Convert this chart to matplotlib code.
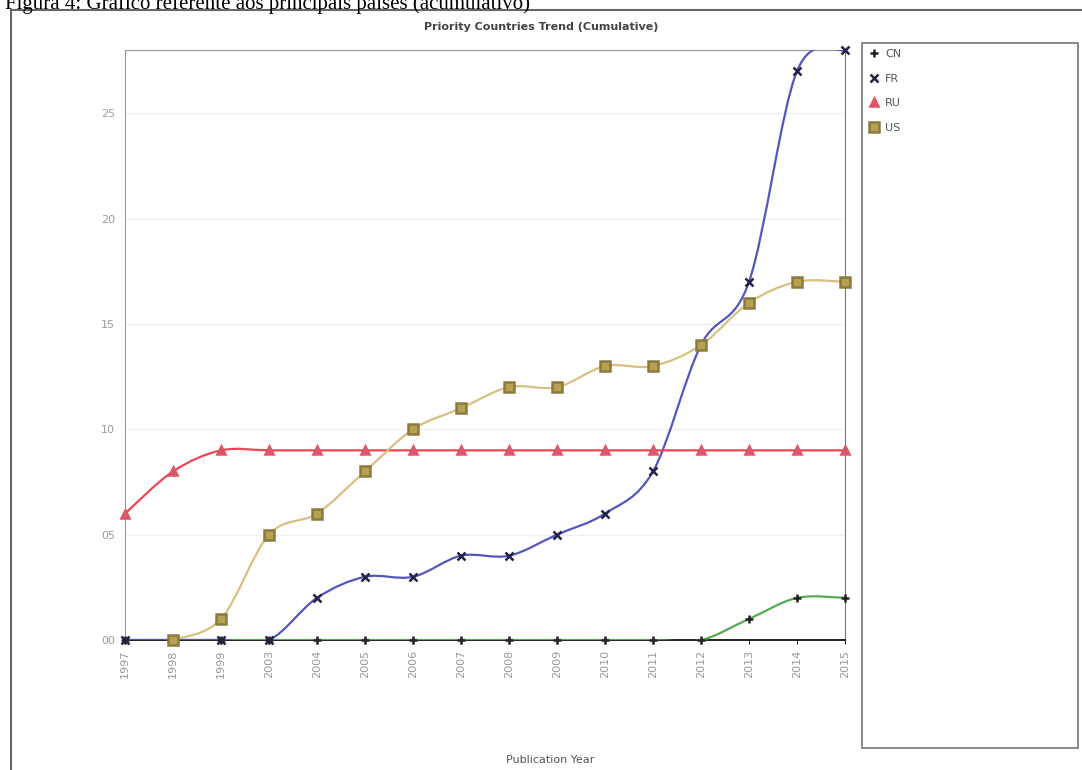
import matplotlib
matplotlib.use("Agg")
import matplotlib.pyplot as plt
import numpy as np
from matplotlib.path import Path
from matplotlib.patches import PathPatch, Rectangle
from matplotlib.lines import Line2D

# categories on the x axis
years = ["1997", "1998", "1999", "2003", "2004", "2005", "2006", "2007",
         "2008", "2009", "2010", "2011", "2012", "2013", "2014", "2015"]

# cumulative counts per country (nan = no point)
cn = [0, 0, 0, 0, 0, 0, 0, 0, 0, 0, 0, 0, 0, 1, 2, 2]
fr = [0, 0, 0, 0, 2, 3, 3, 4, 4, 5, 6, 8, 14, 17, 27, 28]
ru = [6, 8, 9, 9, 9, 9, 9, 9, 9, 9, 9, 9, 9, 9, 9, 9]
us = [np.nan, 0, 1, 5, 6, 8, 10, 11, 12, 12, 13, 13, 14, 16, 17, 17]

W, H = 1082, 770
fig = plt.figure(figsize=(W / 100, H / 100), dpi=100)

def fx(px):
    return px / W

def fy(py):
    return 1 - py / H

# caption above the image (cut at the top in the original)
fig.text(fx(5), fy(9), "Figura 4: Gráfico referente aos principais países (acumulativo)",
         family="Liberation Serif", fontsize=15, va="baseline", ha="left", color="black")

# outer frame of the screenshot
fig.patches.append(Rectangle((fx(11), fy(772)), fx(1090) - fx(11), fy(10) - fy(772),
                             transform=fig.transFigure, fill=False,
                             edgecolor="#666666", linewidth=1.5))

ax = fig.add_axes([fx(125), fy(640), fx(845) - fx(125), fy(50) - fy(640)])
x = np.arange(len(years))


def smooth(ax, xs, ys, color, lw=1.6):
    # catmull-rom through the points, drawn as bezier path
    pts = [(a, b) for a, b in zip(xs, ys) if not np.isnan(b)]
    pts = np.array(pts, dtype=float)
    verts = [tuple(pts[0])]
    codes = [Path.MOVETO]
    n = len(pts)
    for i in range(n - 1):
        p0 = pts[i - 1] if i > 0 else pts[i]
        p1 = pts[i]
        p2 = pts[i + 1]
        p3 = pts[i + 2] if i + 2 < n else pts[i + 1]
        c1 = p1 + (p2 - p0) / 6.0
        c2 = p2 - (p3 - p1) / 6.0
        verts += [tuple(c1), tuple(c2), tuple(p2)]
        codes += [Path.CURVE4] * 3
    ax.add_patch(PathPatch(Path(verts, codes), fill=False, edgecolor=color,
                           linewidth=lw, zorder=3, clip_on=True))


series = [
    ("CN", cn, "#55aa55", "+", "#222222", "#222222", 6),
    ("FR", fr, "#5555c0", "x", "#222244", "#222244", 6),
    ("RU", ru, "#ee4455", "^", "#dd5566", "#dd5566", 5.5),
    ("US", us, "#d8c080", "s", "#b8a050", "#8a7a40", 7),
]

for name, vals, lc, mk, mfc, mec, ms in series:
    smooth(ax, x, np.array(vals, dtype=float), lc)
    ax.plot(x, vals, linestyle="none", marker=mk, markersize=ms,
            markerfacecolor=mfc, markeredgecolor=mec, markeredgewidth=1.8,
            zorder=4, clip_on=False)

ax.set_xlim(0, len(years) - 1)
ax.set_ylim(0, 28)
ax.set_xticks(x)
ax.set_xticklabels(years, rotation=90, fontsize=8, color="#999999")
ax.set_yticks([0, 5, 10, 15, 20, 25])
ax.set_yticklabels(["00", "05", "10", "15", "20", "25"], fontsize=8, color="#999999")
ax.tick_params(axis="x", length=3, color="#222222", pad=4)
ax.tick_params(axis="y", length=0, pad=7)
ax.grid(axis="y", color="#f0f0f0", linewidth=1)
ax.set_axisbelow(True)
for s in ["left", "top"]:
    ax.spines[s].set_color("#999999")
ax.spines["right"].set_color("#777777")
ax.spines["bottom"].set_color("#222222")
ax.spines["bottom"].set_linewidth(1.4)

fig.text(0.5, fy(27), "Priority Countries Trend (Cumulative)", ha="center", va="center",
         fontsize=8, fontweight="bold", color="#444444")
fig.text(fx(550), fy(760), "Publication Year", ha="center", va="center",
         fontsize=8, color="#555555")

# legend box
fig.patches.append(Rectangle((fx(862), fy(748)), fx(1078) - fx(862), fy(43) - fy(748),
                             transform=fig.transFigure, fill=False,
                             edgecolor="#777777", linewidth=1.2))
handles = [Line2D([], [], linestyle="none", marker=mk, markersize=ms,
                  markerfacecolor=mfc, markeredgecolor=mec, markeredgewidth=1.8)
           for name, vals, lc, mk, mfc, mec, ms in series]
fig.legend(handles, [s[0] for s in series], loc="upper left",
           bbox_to_anchor=(fx(866), fy(46)), frameon=False, fontsize=8,
           handlelength=0.8, handletextpad=0.6, labelspacing=1.3,
           labelcolor="#555555", borderaxespad=0, borderpad=0.3)

fig.savefig("out.png", dpi=100)
